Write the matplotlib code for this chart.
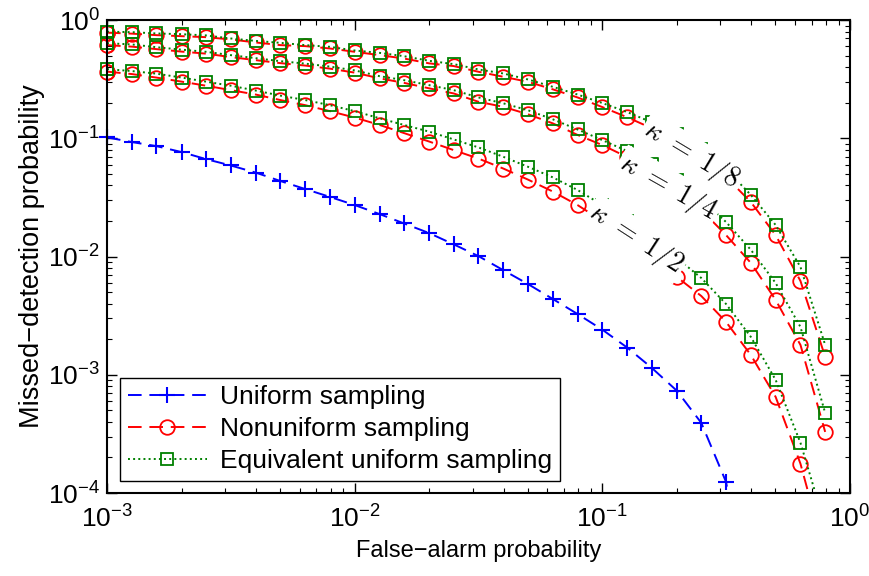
import matplotlib
matplotlib.use("Agg")
import matplotlib.pyplot as plt
import numpy as np

plt.rcParams['font.family'] = ['Liberation Sans', 'DejaVu Sans']
plt.rcParams['mathtext.fontset'] = 'custom'
plt.rcParams['mathtext.rm'] = 'Liberation Sans'
plt.rcParams['mathtext.it'] = 'Liberation Sans:italic'

# False-alarm probability grid
pf = [0.001, 0.00126, 0.00158, 0.00200, 0.00251, 0.00316, 0.00398, 0.00501, 0.00631, 0.00794,
      0.0100, 0.0126, 0.0158, 0.0200, 0.0251, 0.0316, 0.0398, 0.0501, 0.0631, 0.0794,
      0.100, 0.126, 0.158, 0.200, 0.251, 0.316, 0.398, 0.501, 0.631, 0.794]

# Uniform sampling (blue)
pm_uniform = [0.102, 0.0931, 0.0861, 0.0766, 0.0668, 0.0590, 0.0514, 0.0436, 0.0373, 0.0320,
              0.0273, 0.0229, 0.0191, 0.0158, 0.0127, 0.0101, 0.00768, 0.00586, 0.00438, 0.00327,
              0.00241, 0.00170, 0.00115, 0.000733, 0.000392, 0.000124, 0.0000085]

# Nonuniform sampling (red) for kappa = 1/8, 1/4, 1/2
pm_nonuni_k8 = [0.784, 0.769, 0.747, 0.732, 0.718, 0.687, 0.648, 0.615, 0.603, 0.576,
                0.540, 0.506, 0.474, 0.431, 0.409, 0.366, 0.332, 0.301, 0.260, 0.222,
                0.184, 0.151, 0.122, 0.0949, 0.0695, 0.0471, 0.0289, 0.0152, 0.00622, 0.00142]
pm_nonuni_k4 = [0.615, 0.597, 0.569, 0.542, 0.521, 0.487, 0.459, 0.433, 0.413, 0.389,
                0.360, 0.322, 0.295, 0.265, 0.240, 0.204, 0.185, 0.160, 0.134, 0.107,
                0.0878, 0.0695, 0.0529, 0.0373, 0.0248, 0.0152, 0.00883, 0.00430, 0.00179, 0.000329]
pm_nonuni_k2 = [0.367, 0.350, 0.327, 0.302, 0.279, 0.256, 0.235, 0.211, 0.191, 0.170,
                0.150, 0.130, 0.111, 0.0940, 0.0796, 0.0675, 0.0556, 0.0448, 0.0355, 0.0273,
                0.0200, 0.0141, 0.00973, 0.00672, 0.00464, 0.00280, 0.00147, 0.000650, 0.000177, 0.0000300]

# Equivalent uniform sampling (green)
pm_equiv_k8 = [0.799, 0.792, 0.772, 0.761, 0.743, 0.700, 0.668, 0.643, 0.615, 0.595,
               0.554, 0.529, 0.496, 0.453, 0.425, 0.383, 0.354, 0.315, 0.273, 0.235,
               0.199, 0.167, 0.137, 0.109, 0.0812, 0.0550, 0.0332, 0.0185, 0.00817, 0.00179]
pm_equiv_k4 = [0.639, 0.623, 0.591, 0.563, 0.540, 0.506, 0.477, 0.450, 0.429, 0.405,
               0.376, 0.336, 0.311, 0.282, 0.256, 0.222, 0.198, 0.173, 0.145, 0.119,
               0.0967, 0.0781, 0.0606, 0.0444, 0.0307, 0.0196, 0.0114, 0.00598, 0.00254, 0.000476]
pm_equiv_k2 = [0.385, 0.371, 0.353, 0.327, 0.302, 0.279, 0.254, 0.230, 0.211, 0.191,
               0.170, 0.148, 0.130, 0.114, 0.0980, 0.0839, 0.0699, 0.0575, 0.0468, 0.0366,
               0.0273, 0.0200, 0.0141, 0.00973, 0.00659, 0.00397, 0.00209, 0.000906, 0.000266, 0.0000528]

kappa_labels = [r'$\kappa\ =\ 1/8$', r'$\kappa\ =\ 1/4$', r'$\kappa\ =\ 1/2$']
legend_labels = ['Uniform sampling', 'Nonuniform sampling', 'Equivalent uniform sampling']

blue = (0, 0, 1)
red = (1, 0, 0)
green = (0, 0.5, 0)

fig = plt.figure(figsize=(8.7, 5.76), dpi=100)
ax = fig.add_axes([0.123, 0.144, 0.854, 0.821])

lw = 1.4
blue_style = dict(color=blue, marker='+', ms=12, mew=1.5)
red_style = dict(color=red, marker='o', ms=10.5, mew=1.3, mfc='none')
green_style = dict(color=green, marker='s', ms=9, mew=1.3, mfc='none')

ax.plot(pf[:len(pm_uniform)], pm_uniform, lw=lw, dashes=(7, 4),
        label=legend_labels[0], **blue_style)
ax.plot(pf[:1], pm_uniform[:1], ls='none', clip_on=False, **blue_style)
for i, ys in enumerate([pm_nonuni_k8, pm_nonuni_k4, pm_nonuni_k2]):
    ax.plot(pf, ys, lw=lw, dashes=(7, 4),
            label=legend_labels[1] if i == 0 else None, **red_style)
    ax.plot(pf[:1], ys[:1], ls='none', clip_on=False, **red_style)
for i, ys in enumerate([pm_equiv_k8, pm_equiv_k4, pm_equiv_k2]):
    ax.plot(pf, ys, lw=lw, ls=':',
            label=legend_labels[2] if i == 0 else None, **green_style)
    ax.plot(pf[:1], ys[:1], ls='none', clip_on=False, **green_style)

ax.set_xscale('log')
ax.set_yscale('log')
ax.set_xlim(1e-3, 1)
ax.set_ylim(1e-4, 1)

# kappa annotations
label_pos = [(0.786, 0.714, -31), (0.755, 0.645, -29.5), (0.712, 0.538, -33)]
for (xa, ya, rot), txt in zip(label_pos, kappa_labels):
    ax.text(xa, ya, txt, transform=ax.transAxes, rotation=rot, rotation_mode='anchor',
            ha='center', va='center', fontsize=20, math_fontfamily='cm', zorder=10,
            bbox=dict(facecolor='white', edgecolor='none', pad=2))

ax.set_xlabel('False\u2212alarm probability', fontsize=17, labelpad=5)
ax.set_ylabel('Missed\u2212detection probability', fontsize=19.5, labelpad=2)
ax.tick_params(which='both', direction='in', top=True, right=True, labelsize=19)
ax.tick_params(axis='x', which='major', pad=9)
ax.tick_params(axis='y', which='major', pad=5)
ax.tick_params(which='major', length=7, width=1)
ax.tick_params(which='minor', length=3.5, width=0.8)
for s in ax.spines.values():
    s.set_linewidth(1.5)

leg = ax.legend(loc='lower left', bbox_to_anchor=(0.017, 0.025), borderaxespad=0,
                fontsize=19, numpoints=1, handlelength=3.0, fancybox=False,
                framealpha=1, edgecolor='black', borderpad=0.3, labelspacing=0.3,
                handletextpad=0.5)
leg.get_frame().set_linewidth(1.0)
leg.set_zorder(20)

fig.savefig('out.png', dpi=100)
